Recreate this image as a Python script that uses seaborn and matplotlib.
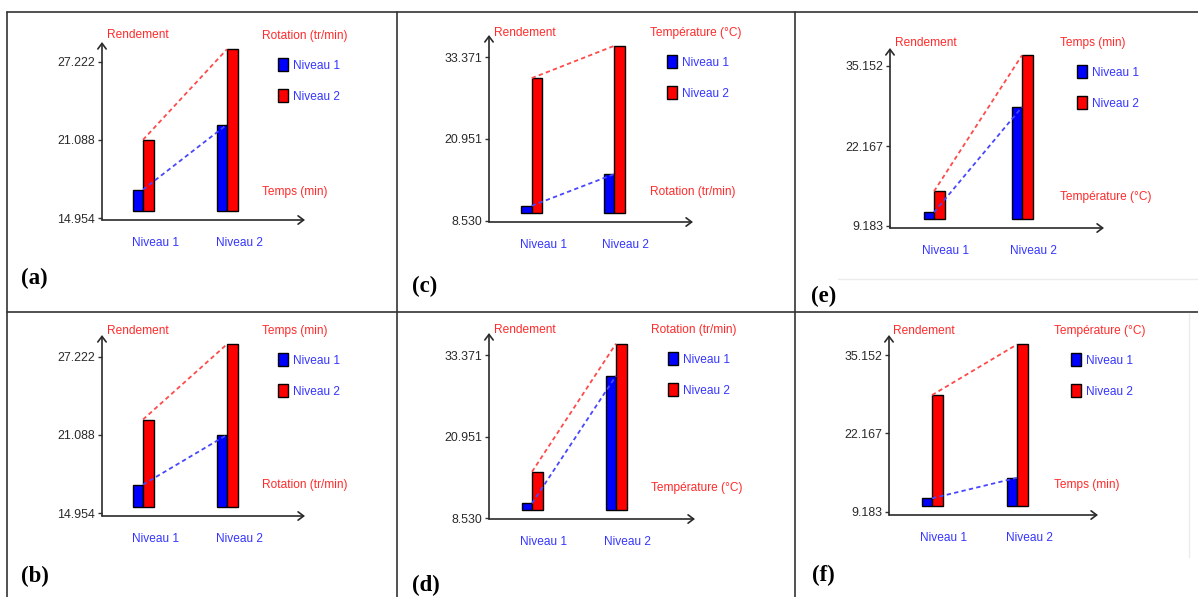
import matplotlib.pyplot as plt
import seaborn as sns
import pandas as pd
from matplotlib.lines import Line2D
from matplotlib.patches import Patch
from matplotlib import font_manager

# Niveaux des facteurs
niveaux = ["Niveau 1", "Niveau 2"]

# Rendement moyen: une liste par niveau du facteur de légende,
# valeurs dans l'ordre des niveaux du facteur en abscisse
rdt_a_niv1 = [17.2, 22.3]
rdt_a_niv2 = [21.1, 28.2]
rdt_b_niv1 = [17.2, 21.1]
rdt_b_niv2 = [22.3, 28.2]
rdt_c_niv1 = [10.8, 15.6]
rdt_c_niv2 = [30.2, 35.1]
rdt_d_niv1 = [10.8, 30.2]
rdt_d_niv2 = [15.6, 35.1]
rdt_e_niv1 = [11.4, 28.5]
rdt_e_niv2 = [14.8, 36.9]
rdt_f_niv1 = [11.4, 14.8]
rdt_f_niv2 = [28.5, 36.9]

# Graduations de l'axe Rendement
ticks_ab = [14.954, 21.088, 27.222]
ticks_cd = [8.530, 20.951, 33.371]
ticks_ef = [9.183, 22.167, 35.152]

fac_temps = "Temps (min)"
fac_rot = "Rotation (tr/min)"
fac_temp = "Température (°C)"

W, H = 1198, 597

sns.set_style("white")
noms = {f.name for f in font_manager.fontManager.ttflist}
if "Liberation Sans Narrow" in noms:
    police, TXT = "Liberation Sans Narrow", 9.6
else:
    police, TXT = "Liberation Sans", 8.6
plt.rcParams["font.family"] = [police, "DejaVu Sans"]

ROUGE_TXT = "#ff2b2b"
BLEU_TXT = "#3535ff"
BLEU = "#0000ff"
ROUGE = "#ff0000"

fig = plt.figure(figsize=(W / 100, H / 100), dpi=100)


def fx(x):
    return x / W


def fy(y):
    return 1 - y / H


# positions en pixels de chaque panneau
panneaux = [
    dict(lettre="(a)", niv1=rdt_a_niv1, niv2=rdt_a_niv2, ticks=ticks_ab, xfac=fac_temps, hfac=fac_rot,
         box=(102, 42, 305, 220), grp=(143, 227), tk=(61.7, 218.3),
         rend=(107, 35), tete=(262, 36), leg=(278, 58), fac=(262, 192), lab=(21, 278)),
    dict(lettre="(b)", niv1=rdt_b_niv1, niv2=rdt_b_niv2, ticks=ticks_ab, xfac=fac_rot, hfac=fac_temps,
         box=(102, 335, 305, 516), grp=(143, 227), tk=(356.7, 513.3),
         rend=(107, 331), tete=(262, 331), leg=(278, 353), fac=(262, 485), lab=(21, 576)),
    dict(lettre="(c)", niv1=rdt_c_niv1, niv2=rdt_c_niv2, ticks=ticks_cd, xfac=fac_rot, hfac=fac_temp,
         box=(489, 35, 693, 222), grp=(531.7, 614), tk=(57.3, 220.7),
         rend=(494, 33), tete=(650, 33), leg=(667, 55), fac=(650, 192), lab=(412, 286)),
    dict(lettre="(d)", niv1=rdt_d_niv1, niv2=rdt_d_niv2, ticks=ticks_cd, xfac=fac_temp, hfac=fac_rot,
         box=(489, 333, 695, 519), grp=(532, 616), tk=(355, 518.3),
         rend=(494, 330), tete=(651, 330), leg=(668, 352), fac=(651, 488), lab=(412, 585)),
    dict(lettre="(e)", niv1=rdt_e_niv1, niv2=rdt_e_niv2, ticks=ticks_ef, xfac=fac_temp, hfac=fac_temps,
         box=(890, 48, 1104, 228), grp=(934, 1022), tk=(66, 226),
         rend=(895, 43), tete=(1060, 43), leg=(1077, 65), fac=(1060, 197), lab=(811, 296)),
    dict(lettre="(f)", niv1=rdt_f_niv1, niv2=rdt_f_niv2, ticks=ticks_ef, xfac=fac_temps, hfac=fac_temp,
         box=(889, 335, 1098, 515), grp=(932, 1017), tk=(355, 511.7),
         rend=(893, 331), tete=(1054, 331), leg=(1071, 353), fac=(1054, 485), lab=(812, 575)),
]


def trace_panneau(p):
    l, t, r, b = p["box"]
    ax = fig.add_axes([fx(l), fy(b), fx(r) - fx(l), fy(t) - fy(b)])
    g1, g2 = p["grp"]
    u = g2 - g1
    y_hi, y_lo = p["tk"]
    s = (y_lo - y_hi) / (p["ticks"][-1] - p["ticks"][0])
    ylim = (p["ticks"][0] - (b - y_lo) / s, p["ticks"][-1] + (y_hi - t) / s)
    base = ylim[0] + 9.5 / s

    df = pd.DataFrame({
        "niveau": niveaux * 2,
        "serie": [niveaux[0]] * 2 + [niveaux[1]] * 2,
        "rendement": p["niv1"] + p["niv2"],
    })
    df["hauteur"] = df["rendement"] - base

    sns.barplot(data=df, x="niveau", y="hauteur", hue="serie", palette=[BLEU, ROUGE],
                saturation=1, width=21 / u, gap=0, bottom=base, edgecolor="black",
                linewidth=1, errorbar=None, legend=False, ax=ax)

    # lignes d'interaction
    ax.plot([0, 1], p["niv1"], color="#4747ff", lw=1.3, ls=(0, (2.4, 1.8)))
    ax.plot([0, 1], p["niv2"], color="#ff4a4a", lw=1.3, ls=(0, (2.4, 1.8)))

    ax.set_xlim(-(g1 - l) / u, (r - g1) / u)
    ax.set_ylim(ylim)
    ax.set_yticks(p["ticks"])
    ax.set_yticklabels([f"{v:.3f}" for v in p["ticks"]])
    ax.set_xticks([i + 12 / u for i in range(len(niveaux))])
    ax.set_xticklabels(niveaux)
    ax.set_xlabel("")
    ax.set_ylabel("")
    ax.tick_params(axis="y", length=3, width=1, color="#333333", pad=2,
                   labelsize=TXT + 0.3, labelcolor="#2a2a2a", left=True)
    ax.tick_params(axis="x", length=0, pad=12, labelsize=TXT, labelcolor=BLEU_TXT)
    for sp in ax.spines.values():
        sp.set_visible(False)
    ax.patch.set_alpha(0)

    fleche = dict(arrowstyle="->,head_length=0.4,head_width=0.3", lw=1.2,
                  color="#2a2a2a", shrinkA=0, shrinkB=0)
    ax.annotate("", xy=(0, 1), xytext=(0, 0), xycoords="axes fraction", arrowprops=fleche)
    ax.annotate("", xy=(1, 0), xytext=(0, 0), xycoords="axes fraction", arrowprops=fleche)

    fig.text(fx(p["rend"][0]), fy(p["rend"][1]), "Rendement", color=ROUGE_TXT,
             fontsize=TXT, ha="left", va="center")
    fig.text(fx(p["tete"][0]), fy(p["tete"][1]), p["hfac"], color=ROUGE_TXT,
             fontsize=TXT, ha="left", va="center")
    fig.text(fx(p["fac"][0]), fy(p["fac"][1]), p["xfac"], color=ROUGE_TXT,
             fontsize=TXT, ha="left", va="center")
    fig.text(fx(p["lab"][0]), fy(p["lab"][1]), p["lettre"], color="black",
             fontsize=16.5, fontweight="bold", family="Liberation Serif", ha="left", va="center")

    poignees = [Patch(facecolor=BLEU, edgecolor="black", label=niveaux[0]),
                Patch(facecolor=ROUGE, edgecolor="black", label=niveaux[1])]
    ax.legend(handles=poignees, loc="upper left", bbox_to_anchor=(fx(p["leg"][0]), fy(p["leg"][1])),
              bbox_transform=fig.transFigure, frameon=False, borderpad=0, borderaxespad=0,
              handlelength=0.85, handleheight=1.35, handletextpad=0.4, labelspacing=1.45,
              labelcolor=BLEU_TXT, fontsize=TXT)


for p in panneaux:
    trace_panneau(p)

# cadre du tableau
bord = dict(color="#333333", lw=1.2)
fig.add_artist(Line2D([fx(7), fx(W)], [fy(11.5), fy(11.5)], **bord))
fig.add_artist(Line2D([fx(7), fx(W)], [fy(311.5), fy(311.5)], **bord))
for xc in (7.3, 397, 794.5):
    fig.add_artist(Line2D([fx(xc), fx(xc)], [fy(11.5), fy(H)], **bord))
# traits clairs autour des images (e) et (f)
fig.add_artist(Line2D([fx(838), fx(W)], [fy(279), fy(279)], color="#ebebeb", lw=1))
fig.add_artist(Line2D([fx(1188.5), fx(1188.5)], [fy(313), fy(557)], color="#ebebeb", lw=1))

fig.savefig("out.png", dpi=100)
